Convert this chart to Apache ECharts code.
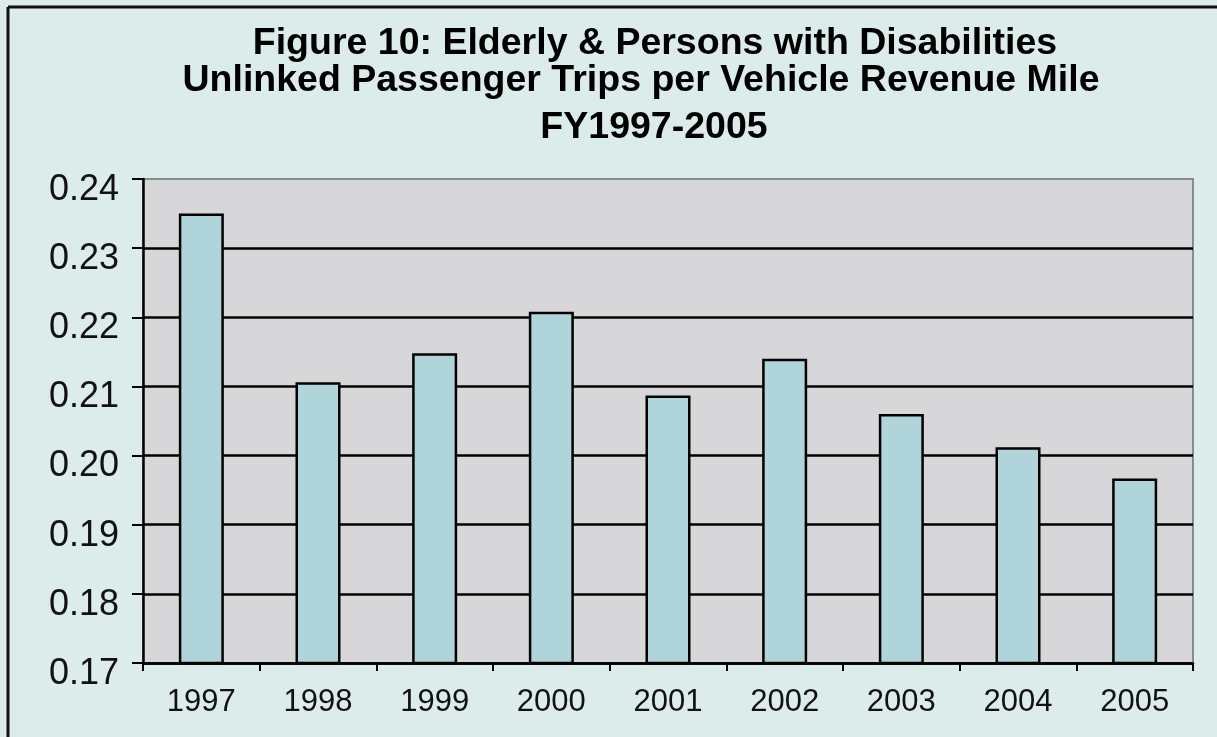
<!DOCTYPE html>
<html>
<head>
<meta charset="utf-8">
<script src="https://cdn.jsdelivr.net/npm/echarts@6/dist/echarts.min.js"></script>
<style>
html,body{margin:0;padding:0;background:#dcecea;}
#chart{width:1217px;height:737px;}
</style>
</head>
<body>
<div id="chart"></div>
<script>
const titleLines = [
  'Figure 10: Elderly & Persons with Disabilities',
  'Unlinked Passenger Trips per Vehicle Revenue Mile',
  'FY1997-2005'
];
const years = ['1997','1998','1999','2000','2001','2002','2003','2004','2005'];
const tripsPerMile = [0.2350, 0.2106, 0.2148, 0.2208, 0.2087, 0.2140, 0.2060, 0.2012, 0.1967];
const yMin = 0.17, yMax = 0.24, yStep = 0.01;

const chart = echarts.init(document.getElementById('chart'), null, {renderer:'canvas'});
const titleTops = [25, 62, 109];
const titleCenters = [655, 641, 654];
chart.setOption({
  backgroundColor: '#dcecea',
  animation: false,
  title: titleLines.map((t, i) => ({
    text: t,
    left: titleCenters[i],
    top: titleTops[i],
    textAlign: 'center',
    padding: 0,
    textStyle: {fontFamily: 'Liberation Sans', fontWeight: 'bold', fontSize: 37.5, color: '#000', lineHeight: 38}
  })),
  graphic: [
    {type:'line', shape:{x1:8, y1:7, x2:1217, y2:7}, style:{stroke:'#111', lineWidth:3}},
    {type:'line', shape:{x1:8, y1:7, x2:8, y2:737}, style:{stroke:'#111', lineWidth:3}}
  ],
  grid: {
    left: 143, right: 24, top: 179, bottom: 74,
    show: true, backgroundColor: '#d7d6d9', borderColor: '#8a8a8a', borderWidth: 2
  },
  xAxis: {
    type: 'category',
    data: years,
    boundaryGap: true,
    axisLine: {show: true, lineStyle: {color: '#000', width: 2.5}},
    axisTick: {show: true, length: 8, alignWithLabel: false, lineStyle: {color: '#000', width: 2}},
    axisLabel: {margin: 24, fontFamily: 'Liberation Sans', fontSize: 31, color: '#111'},
    splitLine: {show: false}
  },
  yAxis: {
    type: 'value',
    min: yMin, max: yMax, interval: yStep,
    axisLine: {show: true, lineStyle: {color: '#000', width: 2.5}},
    axisTick: {show: true, length: 11, lineStyle: {color: '#000', width: 2}},
    axisLabel: {
      margin: 24, color: '#111',
      formatter: v => '{s|}\n{v|' + v.toFixed(2) + '}',
      rich: {
        s: {lineHeight: 22, fontSize: 10},
        v: {fontFamily: 'Liberation Sans', fontSize: 36, lineHeight: 36, color: '#111'}
      }
    },
    splitLine: {show: true, showMaxLine: false, lineStyle: {color: '#000', width: 2.5}}
  },
  series: [{
    type: 'bar',
    data: tripsPerMile,
    barWidth: 45,
    itemStyle: {color: '#afd5da', borderColor: '#000', borderWidth: 2.5}
  }]
});
</script>
</body>
</html>
